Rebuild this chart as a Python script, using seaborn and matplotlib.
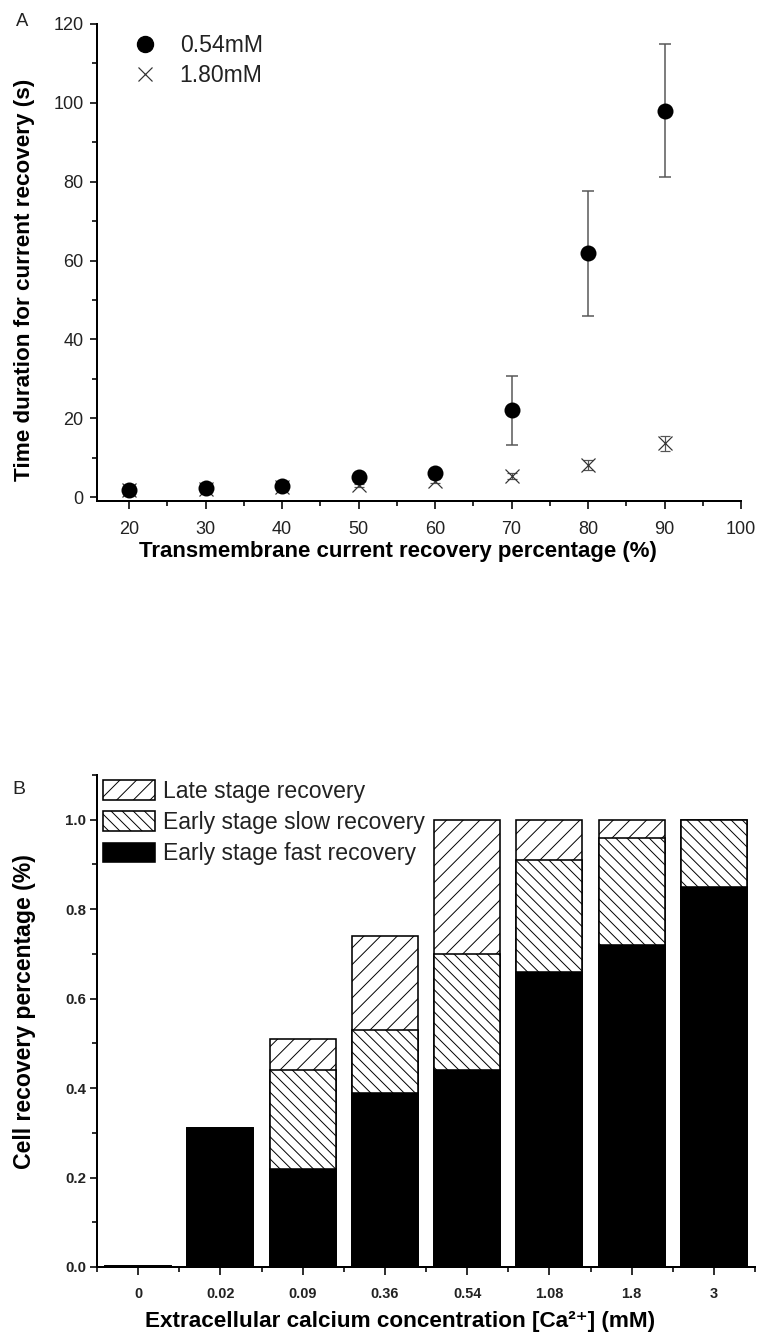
import numpy as np
import pandas as pd
import matplotlib
matplotlib.use("Agg")
import matplotlib.pyplot as plt
import seaborn as sns
from matplotlib.ticker import MultipleLocator, FixedLocator, FormatStrFormatter
from matplotlib.patches import Patch
from matplotlib.lines import Line2D

# ---- Panel A: time needed to reach a given current recovery ----
recovery_pct = [20, 30, 40, 50, 60, 70, 80, 90]
time_054 = [1.8, 2.2, 2.8, 5.0, 6.1, 22.0, 61.8, 98.0]
err_054 = [0.4, 0.4, 0.5, 0.6, 0.8, 8.8, 15.8, 16.8]
time_180 = [1.7, 2.0, 2.5, 3.0, 4.0, 5.4, 8.1, 13.6]
err_180 = [0.3, 0.3, 0.3, 0.4, 0.5, 0.8, 1.2, 1.9]

# ---- Panel B: fraction of recovered cells per calcium level ----
ca_labels = ["0", "0.02", "0.09", "0.36", "0.54", "1.08", "1.8", "3"]
fast = [0.003, 0.31, 0.22, 0.39, 0.44, 0.66, 0.72, 0.85]
slow = [0.0, 0.0, 0.22, 0.14, 0.26, 0.25, 0.24, 0.15]
late = [0.0, 0.0, 0.07, 0.21, 0.30, 0.09, 0.04, 0.0]

DPI = 100
W, H = 760, 1336
FAMILY = ["Liberation Sans", "DejaVu Sans"]


def pt(px):
    """pixel size -> points at the figure dpi"""
    return px * 72.0 / DPI


sns.set_theme(style="ticks")
plt.rcParams["font.family"] = FAMILY
plt.rcParams["hatch.linewidth"] = 0.7

fig = plt.figure(figsize=(W / DPI, H / DPI), dpi=DPI)
fig.patch.set_facecolor("white")


def axes_px(left, top, right, bottom):
    return fig.add_axes([left / W, 1 - bottom / H, (right - left) / W, (bottom - top) / H])


def style_axis(ax, tick_px):
    for side in ("left", "bottom"):
        ax.spines[side].set_linewidth(pt(2))
        ax.spines[side].set_color("black")
    sns.despine(ax=ax)
    ax.tick_params(which="major", direction="out", length=pt(7.5), width=pt(1.6),
                   color="black", labelsize=pt(tick_px))
    ax.tick_params(which="minor", direction="out", length=pt(5), width=pt(1.6),
                   color="black")
    ax.set_facecolor("white")
    ax.grid(False)


# ================= Panel A =================
ax1 = axes_px(97, 24, 741, 501)
df_a = pd.DataFrame({
    "pct": recovery_pct * 2,
    "time": time_054 + time_180,
    "err": err_054 + err_180,
    "conc": ["0.54mM"] * len(recovery_pct) + ["1.80mM"] * len(recovery_pct),
})
d054 = df_a[df_a.conc == "0.54mM"]
d180 = df_a[df_a.conc == "1.80mM"]

ax1.errorbar(d054.pct, d054.time, yerr=d054.err, fmt="none", ecolor="#555555",
             elinewidth=pt(1.5), capsize=pt(6), capthick=pt(1.5), zorder=2)
ax1.errorbar(d180.pct, d180.time, yerr=d180.err, fmt="none", ecolor="#555555",
             elinewidth=pt(1.2), capsize=pt(5), capthick=pt(1.2), zorder=2)
sns.scatterplot(data=d180, x="pct", y="time", marker="x", s=pt(14) ** 2,
                color="#333333", linewidth=pt(1.2), ax=ax1, zorder=3, legend=False)
sns.scatterplot(data=d054, x="pct", y="time", marker="o", s=pt(16) ** 2,
                color="black", edgecolor="black", linewidth=0, ax=ax1, zorder=4,
                legend=False)

ax1.set_xlim(15.8, 100)
ax1.set_ylim(-1, 120)
ax1.xaxis.set_major_locator(MultipleLocator(10))
ax1.xaxis.set_minor_locator(MultipleLocator(5))
ax1.yaxis.set_major_locator(MultipleLocator(20))
ax1.yaxis.set_minor_locator(MultipleLocator(10))
style_axis(ax1, 18)
ax1.tick_params(axis="x", which="major", pad=pt(12))
ax1.tick_params(axis="y", which="major", pad=pt(6))
ax1.set_xlabel("")
ax1.set_ylabel("")
for lab in ax1.get_xticklabels() + ax1.get_yticklabels():
    lab.set_color("#222222")

leg_a = ax1.legend(
    handles=[
        Line2D([], [], marker="o", ls="none", color="black", markersize=pt(16)),
        Line2D([], [], marker="x", ls="none", color="#333333", markersize=pt(14),
               markeredgewidth=pt(1.2)),
    ],
    labels=["0.54mM", "1.80mM"],
    loc="upper left", bbox_to_anchor=(0.057, 0.978), frameon=False,
    fontsize=pt(23), handlelength=1.0, handletextpad=1.0, labelspacing=0.3,
    borderaxespad=0, borderpad=0,
)
for t in leg_a.get_texts():
    t.set_color("#222222")

fig.text(25 / W, 1 - 280 / H, "Time duration for current recovery (s)",
         rotation=90, ha="center", va="center", fontsize=pt(22.5),
         fontweight="bold", color="black")
fig.text(398 / W, 1 - 551 / H, "Transmembrane current recovery percentage (%)",
         ha="center", va="center", fontsize=pt(22.3), fontweight="bold",
         color="black")
fig.text(22 / W, 1 - 21 / H, "A", ha="center", va="center", fontsize=pt(18.5),
         color="#222222")

# ================= Panel B =================
ax2 = axes_px(97, 775, 755, 1267)
df_b = pd.DataFrame({"ca": ca_labels, "fast": fast, "slow": slow, "late": late})
df_b["fast_slow"] = df_b["fast"] + df_b["slow"]
df_b["total"] = df_b["fast_slow"] + df_b["late"]

bar_kw = dict(x="ca", order=ca_labels, width=0.8, saturation=1, errorbar=None,
              edgecolor="black", linewidth=pt(1.6), ax=ax2)
# stacked segments: draw the cumulative heights from the tallest down
sns.barplot(data=df_b, y="total", color="white", hatch="//", **bar_kw)
sns.barplot(data=df_b, y="fast_slow", color="white", hatch="\\\\\\", **bar_kw)
sns.barplot(data=df_b, y="fast", color="black", **bar_kw)

ax2.set_xlim(-0.5, len(ca_labels) - 0.5)
ax2.set_ylim(0, 1.1)
ax2.xaxis.set_major_locator(FixedLocator(np.arange(len(ca_labels))))
ax2.xaxis.set_minor_locator(FixedLocator(np.arange(len(ca_labels) + 1) - 0.5))
ax2.set_xticklabels(ca_labels)
ax2.yaxis.set_major_locator(FixedLocator([0.0, 0.2, 0.4, 0.6, 0.8, 1.0]))
ax2.yaxis.set_minor_locator(MultipleLocator(0.1))
ax2.yaxis.set_major_formatter(FormatStrFormatter("%.1f"))
style_axis(ax2, 15)
ax2.tick_params(axis="y", which="major", pad=pt(3))
ax2.set_xlabel("")
ax2.set_ylabel("")
for lab in ax2.get_yticklabels():
    lab.set_fontweight("bold")
    lab.set_color("#222222")
for lab in ax2.get_xticklabels():
    lab.set_fontweight("bold")
    lab.set_fontsize(pt(14.5))
    lab.set_color("#222222")
ax2.tick_params(axis="x", which="major", pad=pt(12))

leg_b = ax2.legend(
    handles=[
        Patch(facecolor="white", edgecolor="black", hatch="//", linewidth=pt(1.6)),
        Patch(facecolor="white", edgecolor="black", hatch="\\\\\\", linewidth=pt(1.6)),
        Patch(facecolor="black", edgecolor="black", linewidth=pt(1.6)),
    ],
    labels=["Late stage recovery", "Early stage slow recovery",
            "Early stage fast recovery"],
    loc="upper left", bbox_to_anchor=(0.009, 0.99), frameon=False,
    fontsize=pt(23), handlelength=2.25, handleheight=0.9, handletextpad=0.35,
    labelspacing=0.35, borderaxespad=0, borderpad=0,
)
for t in leg_b.get_texts():
    t.set_color("#222222")

fig.text(25 / W, 1 - 1012 / H, "Cell recovery percentage (%)", rotation=90,
         ha="center", va="center", fontsize=pt(23), fontweight="bold",
         color="black")
fig.text(400 / W, 1 - 1322 / H, "Extracellular calcium concentration [Ca²⁺] (mM)",
         ha="center", va="center", fontsize=pt(22.5), fontweight="bold",
         family=FAMILY, color="black")
fig.text(19 / W, 1 - 790 / H, "B", ha="center", va="center", fontsize=pt(19.5),
         color="#222222")

fig.savefig("out.png", dpi=DPI, facecolor="white")
